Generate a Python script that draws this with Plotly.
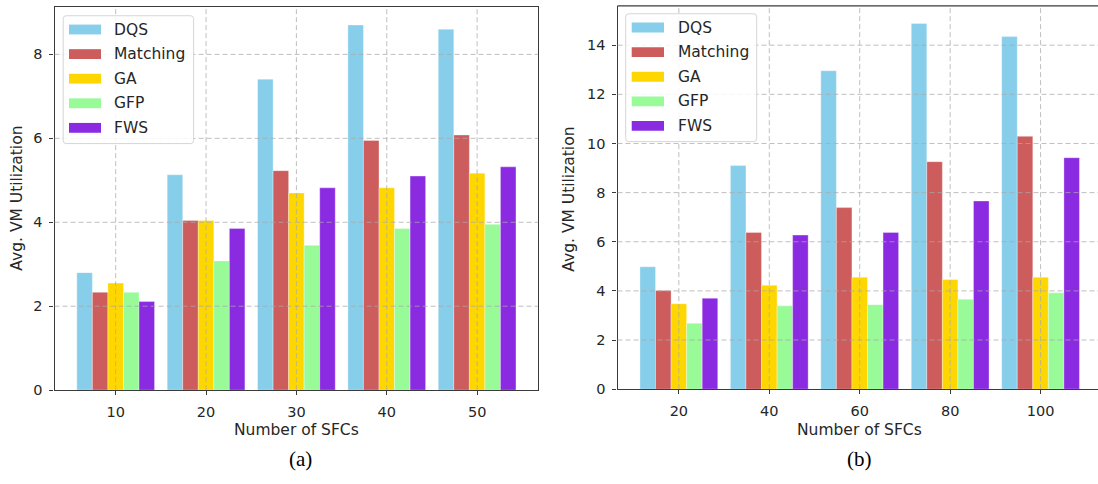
import plotly.graph_objects as go

W, H = 1098, 484

series = ["DQS", "Matching", "GA", "GFP", "FWS"]
colors = ["#87CEEB", "#CD5C5C", "#FFD700", "#98FB98", "#8A2BE2"]

sfc_a = [10, 20, 30, 40, 50]
dqs_a = [2.80, 5.13, 7.41, 8.70, 8.60]
matching_a = [2.33, 4.04, 5.23, 5.95, 6.08]
ga_a = [2.55, 4.04, 4.70, 4.82, 5.17]
gfp_a = [2.33, 3.08, 3.45, 3.85, 3.95]
fws_a = [2.11, 3.85, 4.82, 5.10, 5.32]

sfc_b = [20, 40, 60, 80, 100]
dqs_b = [4.98, 9.10, 12.96, 14.88, 14.35]
matching_b = [4.02, 6.38, 7.39, 9.26, 10.29]
ga_b = [3.48, 4.23, 4.56, 4.46, 4.56]
gfp_b = [2.68, 3.39, 3.44, 3.66, 3.92]
fws_b = [3.70, 6.27, 6.38, 7.66, 9.42]

yticks_a = [0, 2, 4, 6, 8]
yticks_b = [0, 2, 4, 6, 8, 10, 12, 14]

data_a = [dqs_a, matching_a, ga_a, gfp_a, fws_a]
data_b = [dqs_b, matching_b, ga_b, gfp_b, fws_b]

FONT = "DejaVu Sans"
TXT = "#262626"
AXC = "#3a3a3a"


def px(x):
    return x / W


def py(y):
    return 1 - y / H


fig = go.Figure()
for name, col, ya in zip(series, colors, data_a):
    fig.add_trace(go.Bar(x=sfc_a, y=ya, name=name,
                         marker=dict(color=col, line=dict(width=0.6, color="rgba(255,255,255,0.55)")),
                         xaxis="x", yaxis="y", showlegend=False, offsetgroup=name))
for name, col, yb in zip(series, colors, data_b):
    fig.add_trace(go.Bar(x=sfc_b, y=yb, name=name,
                         marker=dict(color=col, line=dict(width=0.6, color="rgba(255,255,255,0.55)")),
                         xaxis="x2", yaxis="y2", showlegend=False, offsetgroup=name))

axis_common = dict(
    showline=True, linecolor=AXC, linewidth=1.3,
    ticks="outside", ticklen=4, tickcolor=AXC, tickwidth=1,
    showgrid=False, zeroline=False,
    tickfont=dict(family=FONT, size=14.5, color=TXT),
    ticklabelstandoff=4,
)

fig.update_layout(
    width=W, height=H,
    margin=dict(l=0, r=0, t=0, b=0),
    paper_bgcolor="white", plot_bgcolor="white",
    barmode="group", bargap=0.14, bargroupgap=0,
    xaxis=dict(domain=[px(54.6), px(538.2)], range=[3.24, 56.76], tickvals=sfc_a,
               mirror=True, anchor="y", **axis_common),
    yaxis=dict(domain=[py(396.7), py(7.3)], range=[0, 9.125], tickvals=yticks_a,
               mirror=True, anchor="x", **axis_common),
    xaxis2=dict(domain=[px(617.5), 1.0], range=[6.43, 112.7], tickvals=sfc_b,
                mirror=False, anchor="y2", **axis_common),
    yaxis2=dict(domain=[py(395.7), py(6.0)], range=[0, 15.6], tickvals=yticks_b,
                mirror=False, anchor="x2", **axis_common),
)

shapes = []
GRID = dict(color="rgba(170,170,170,0.75)", width=1, dash="5px,3px")

# dashed grid drawn above the bars, as in the reference
for xa, ya, xt, yt in [("x", "y", sfc_a, yticks_a), ("x2", "y2", sfc_b, yticks_b)]:
    for v in xt:
        shapes.append(dict(type="line", xref=xa, yref=ya + " domain", x0=v, x1=v, y0=0, y1=1,
                           line=GRID, layer="above"))
    for v in yt[1:]:
        shapes.append(dict(type="line", xref=xa + " domain", yref=ya, x0=0, x1=1, y0=v, y1=v,
                           line=GRID, layer="above"))

# top border of the right subplot (its right border lies outside the picture)
shapes.append(dict(type="line", xref="x2 domain", yref="y2 domain", x0=0, x1=1, y0=1, y1=1,
                   line=dict(color=AXC, width=1.3), layer="above"))

annotations = []


def legend_box(x0, y0, x1, y1, sw_x0, sw_x1, label_x, rows):
    r = 3
    path = (f"M {px(x0 + r)},{py(y0)} L {px(x1 - r)},{py(y0)} Q {px(x1)},{py(y0)} {px(x1)},{py(y0 + r)} "
            f"L {px(x1)},{py(y1 - r)} Q {px(x1)},{py(y1)} {px(x1 - r)},{py(y1)} "
            f"L {px(x0 + r)},{py(y1)} Q {px(x0)},{py(y1)} {px(x0)},{py(y1 - r)} "
            f"L {px(x0)},{py(y0 + r)} Q {px(x0)},{py(y0)} {px(x0 + r)},{py(y0)} Z")
    shapes.append(dict(type="path", xref="paper", yref="paper", path=path,
                       fillcolor="rgba(255,255,255,0.85)", line=dict(color="#d5d5d5", width=1),
                       layer="above"))
    for name, col, yc in zip(series, colors, rows):
        shapes.append(dict(type="rect", xref="paper", yref="paper",
                           x0=px(sw_x0), x1=px(sw_x1), y0=py(yc + 5), y1=py(yc - 5),
                           fillcolor=col, line=dict(width=0), layer="above"))
        annotations.append(dict(text=name, xref="paper", yref="paper", x=px(label_x), y=py(yc),
                                xanchor="left", yanchor="middle", showarrow=False,
                                font=dict(family=FONT, size=15.5, color=TXT)))


legend_box(63.2, 16, 193.6, 146, 69, 101, 112, [30, 55, 80, 105, 130])
legend_box(625.7, 14, 756.7, 144, 631.7, 664, 675.5, [28, 53, 78, 103, 128])

# axis titles
for xc, label in [(296.4, "Number of SFCs"), (859.3, "Number of SFCs")]:
    annotations.append(dict(text=label, xref="paper", yref="paper", x=px(xc), y=py(437.5),
                            xanchor="center", yanchor="middle", showarrow=False,
                            font=dict(family=FONT, size=15.5, color=TXT)))
for xc, yc in [(17, 202), (569, 202)]:
    annotations.append(dict(text="Avg. VM Utilization", xref="paper", yref="paper", x=px(xc), y=py(yc),
                            xanchor="center", yanchor="middle", showarrow=False, textangle=-90,
                            font=dict(family=FONT, size=15.5, color=TXT)))
# captions
for xc, label in [(300, "(a)"), (859.3, "(b)")]:
    annotations.append(dict(text=label, xref="paper", yref="paper", x=px(xc), y=py(467),
                            xanchor="center", yanchor="middle", showarrow=False,
                            font=dict(family="Liberation Serif", size=21, color="black")))

fig.update_layout(shapes=shapes, annotations=annotations)
fig.write_html("out.html")
